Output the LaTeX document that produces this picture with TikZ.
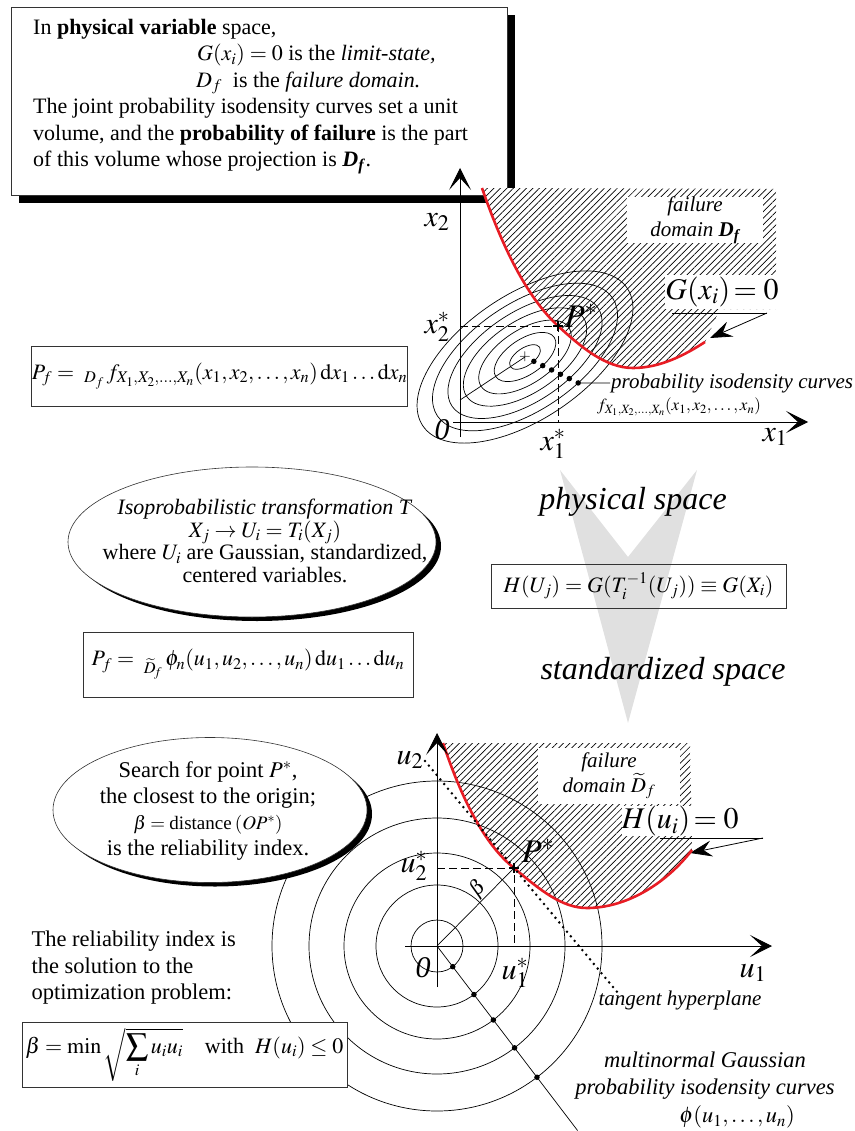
\documentclass[tikz,border=0pt]{standalone}
\usepackage{mathptmx}
\usepackage{fontspec}
\setmainfont{Liberation Serif}
\usetikzlibrary{arrows.meta,patterns.meta,shapes.geometric,shadows,calc,positioning}

\definecolor{limitred}{RGB}{232,28,36}
\definecolor{chevgray}{RGB}{224,224,224}

\tikzset{
  txt/.style={font=\fontsize{22}{26.5}\selectfont},
  axlbl/.style={font=\fontsize{30}{32}\selectfont},
  itlbl/.style={font=\fontsize{21}{25}\selectfont\itshape},
  spacelbl/.style={font=\fontsize{32}{36}\selectfont\itshape},
  formula/.style={draw=black!80,line width=0.8pt,fill=white,font=\fontsize{22}{26}\selectfont,inner sep=0pt},
  bubble/.style={ellipse,draw=black!80,line width=0.6pt,fill=white,inner sep=0pt,
    drop shadow={shadow xshift=5pt,shadow yshift=-4pt,fill=black,opacity=1}},
  axis/.style={line width=0.8pt,-{Stealth[length=22pt,width=22pt,inset=12pt]}},
  limit/.style={limitred,line width=2.6pt},
  hatched/.style={preaction={fill=white},pattern={Lines[angle=45,distance=4.6pt,line width=0.7pt]}},
  iso/.style={line width=0.7pt},
  isodot/.style={circle,fill=black,inner sep=0pt,minimum size=5.5pt},
  guide/.style={line width=0.7pt,dash pattern=on 8pt off 4pt},
  pointer/.style={line width=0.8pt,-{Stealth[length=22pt,width=16pt,inset=8pt]}},
  tangent/.style={line width=2.8pt,line cap=round,dash pattern=on 0pt off 6pt},
  cleared/.style={fill=white,inner sep=0pt},
}

\begin{document}
\begin{tikzpicture}[x=1pt,y=-1pt]
\useasboundingbox (0,0) rectangle (854,1131);

% grey arrow between the two spaces
\fill[chevgray] (560,470) -- (628,557) -- (697,470) -- (628,723) -- cycle;

% statement box
\filldraw[fill=white,draw=black!80,line width=0.8pt,
  drop shadow={shadow xshift=8pt,shadow yshift=-8pt,fill=black,opacity=1}]
  (11,7) rectangle (507,195);
\node[txt,align=left,anchor=north west,inner sep=0pt] (intro) at (33,19) {In \textbf{physical variable} space,\\
\hspace*{164pt}$G(x_i) = 0$ is the \textit{limit-state,}\\
\hspace*{163pt}$D_f$\enspace is the \textit{failure domain.}\\
The joint probability isodensity curves set a unit\\
volume, and the \textbf{probability of failure} is the part\\
of this volume whose projection is \textbf{\textit{D}}\textsubscript{\textbf{\textit{f}}}.};

% physical space
\coordinate (O1) at (460,422);
\coordinate (C1) at (525,357);
\coordinate (P1) at (558,326);
\fill[hatched] (482,188) .. controls (505,255) and (530,300) .. (P1)
  .. controls (580,346) and (605,368) .. (633,368)
  .. controls (660,368) and (685,355) .. (705,342)
  -- (720,309) -- (776,309) -- (776,189) -- cycle;
\node[cleared,itlbl,align=center,minimum width=136,minimum height=44] (fail1) at (695,220)
  {failure\\domain \textbf{\textit{D}}\textsubscript{\textbf{\textit{f}}}};
\node[cleared,axlbl,minimum width=110,minimum height=33] (glim) at (722,292) {$G(x_i)\!= 0$};
\coordinate (g1a) at (672,313);
\coordinate (g1b) at (767,313);
\coordinate (g1tip) at (710,338);
\draw[iso] (g1a) -- (g1b);
\draw[pointer] (g1b) -- (g1tip);

\foreach \k in {1,...,7}
  \draw[iso,rotate around={34:(C1)}] (C1) ellipse [x radius=17.6*\k, y radius=8.9*\k];
\coordinate (maj1) at (460,400);
\draw[iso] (maj1) -- (C1);
\node[font=\fontsize{15}{15}\selectfont,inner sep=0pt] (cen1) at (C1) {$+$};
\foreach \k in {1,...,6}
  \node[isodot] (dot\k) at ($(C1)+(26:9.86*\k)$) {};

\draw[limit] (482,188) .. controls (505,255) and (530,300) .. (P1)
  .. controls (580,346) and (605,368) .. (633,368)
  .. controls (660,368) and (685,355) .. (705,342);

\draw[guide] (O1 |- P1) -- (P1) -- (P1 |- O1);
\draw[line width=1.4pt] ([xshift=-5pt]P1) -- ([xshift=5pt]P1) ([yshift=-5pt]P1) -- ([yshift=5pt]P1);

\coordinate (y1lo) at (460,437);
\coordinate (y1hi) at (460,168);
\coordinate (x1lo) at (453,422);
\coordinate (x1hi) at (808,422);
\draw[axis] (y1lo) -- (y1hi);
\draw[axis] (x1lo) -- (x1hi);

\node[axlbl] (x2lbl) at (437,222) {$x_2$};
\node[axlbl] (x2star) at (437,327) {$x_2^*$};
\node[axlbl] (zero1) at (442,430) {\textit{0}};
\node[axlbl] (x1star) at (553,444) {$x_1^*$};
\node[axlbl] (x1lbl) at (775,437) {$x_1$};
\node[font=\fontsize{33}{34}\selectfont] (p1lbl) at (581,316) {$P^*$};

\node[itlbl,anchor=west,inner sep=1pt] (iso1) at (610,383) {probability isodensity curves};
\draw[iso] (dot6) -- (iso1.west);
\node[font=\fontsize{17}{18}\selectfont] (flbl) at (679,407) {$f_{X_1,X_2,\ldots,X_n}(x_1,x_2,\ldots,x_n)$};

% formulas and transformation
\node[formula,minimum width=373,minimum height=60] (pf1) at (219.5,376)
  {$P_f = \;{}_{D_f}\, f_{X_1,X_2,\ldots,X_n}(x_1,x_2,\ldots,x_n)\,\mathrm{d}x_1\ldots\mathrm{d}x_n$};

\node[bubble,minimum width=368,minimum height=150] (isobubble) at (252,542) {};
\node[txt,align=center,font=\fontsize{22}{22.7}\selectfont] (isotext) at (265,541)
  {\textit{Isoprobabilistic transformation T}\\
   $X_j \rightarrow U_i = T_i(X_j)$\\
   where $U_i$ are Gaussian, standardized,\\
   centered variables.};

\node[spacelbl] (phys) at (633,502) {physical space};
\node[formula,fill=none,minimum width=295,minimum height=44] (hmap) at (638.5,586)
  {$H(U_j) = G(T_i^{-1}(U_j)) \equiv G(X_i)$};
\node[spacelbl] (std) at (663,672) {standardized space};

\node[formula,minimum width=330,minimum height=65] (pf2) at (248,664.5)
  {$P_f = \;{}_{\widetilde{D}_{\!f}}\,\phi_n(u_1,u_2,\ldots,u_n)\,\mathrm{d}u_1\ldots\mathrm{d}u_n$};

% standardized space
\coordinate (O2) at (437,946);
\coordinate (P2) at (514,868);
\fill[hatched] (443,743) .. controls (462,800) and (485,845) .. (P2)
  .. controls (540,890) and (562,908) .. (587,908)
  .. controls (625,908) and (665,885) .. (692,850)
  -- (690,743) -- cycle;
\node[cleared,itlbl,align=center,minimum width=142,minimum height=56] (fail2) at (609,776)
  {failure\\domain $\widetilde{D}_f$};
\node[cleared,axlbl,minimum width=96,minimum height=28] (hlim) at (680,821) {$H(u_i)\!= 0$};
\coordinate (h2a) at (660,838);
\coordinate (h2b) at (763,838);
\coordinate (h2tip) at (690,853);
\draw[iso] (h2a) -- (h2b);
\draw[pointer] (h2b) -- (h2tip);

\foreach \r in {26,61,93,128,165}
  \draw[iso] (O2) circle [radius=\r];
\coordinate (ray2) at ($(O2)+(52.7:232)$);
\draw[iso] (O2) -- (ray2);
\foreach \r [count=\j] in {26,61,93,128,165}
  \node[isodot] (cdot\j) at ($(O2)+(52.7:\r)$) {};

\draw[limit] (443,743) .. controls (462,800) and (485,845) .. (P2)
  .. controls (540,890) and (562,908) .. (587,908)
  .. controls (625,908) and (665,885) .. (692,850);

\coordinate (tan2a) at (425,761);
\coordinate (tan2b) at (618,993);
\draw[tangent] (tan2a) -- (tan2b);

\draw[iso] (O2) -- (P2);
\draw[guide] (O2 |- P2) -- (P2) -- (P2 |- O2);
\draw[line width=1.2pt] ([xshift=-5pt]P2) -- ([xshift=5pt]P2) ([yshift=-5pt]P2) -- ([yshift=5pt]P2);

\coordinate (y2lo) at (437,987);
\coordinate (y2hi) at (437,733);
\coordinate (x2lo) at (405,946);
\coordinate (x2hi) at (772,946);
\draw[axis] (y2lo) -- (y2hi);
\draw[axis] (x2lo) -- (x2hi);

\node[axlbl] (u2lbl) at (410,760) {$u_2$};
\node[axlbl] (u2star) at (414,866) {$u_2^*$};
\node[axlbl] (zero2) at (423,968) {\textit{0}};
\node[axlbl] (u1star) at (515,973) {$u_1^*$};
\node[axlbl] (u1lbl) at (753,973) {$u_1$};
\node[font=\fontsize{33}{34}\selectfont] (p2lbl) at (538,851) {$P^*$};
\node[font=\fontsize{21}{21}\selectfont,rotate=45] (betalbl) at (478,889) {$\beta$};

\node[itlbl] (tanlbl) at (680,1000) {tangent hyperplane};
\node[itlbl,align=center,font=\fontsize{22.5}{27}\selectfont\itshape] (gausslbl) at (705,1076)
  {multinormal Gaussian\\probability isodensity curves};
\node[itlbl,font=\fontsize{22.5}{27}\selectfont\itshape] (philbl) at (737,1117) {$\phi(u_1,\ldots,u_n)$};

% reliability index
\node[bubble,minimum width=314,minimum height=145] (searchbubble) at (210,810) {};
\node[txt,align=center,font=\fontsize{22.5}{26}\selectfont] (searchtext) at (208,811)
  {Search for point $P^*$,\\
   the closest to the origin;\\
   {\fontsize{19}{22}\selectfont$\beta = {}$distance\,$(OP^*)$}\\
   is the reliability index.};

\node[txt,align=left,anchor=west,font=\fontsize{22.5}{26.5}\selectfont] (optitext) at (28,968)
  {The reliability index is\\the solution to the\\optimization problem:};

\node[formula,minimum width=325,minimum height=65] (betabox) at (184.5,1054.5)
  {$\beta = \min\sqrt{\displaystyle\sum_i u_i u_i}$\quad with\enspace $H(u_i) \le 0$};

\end{tikzpicture}
\end{document}
